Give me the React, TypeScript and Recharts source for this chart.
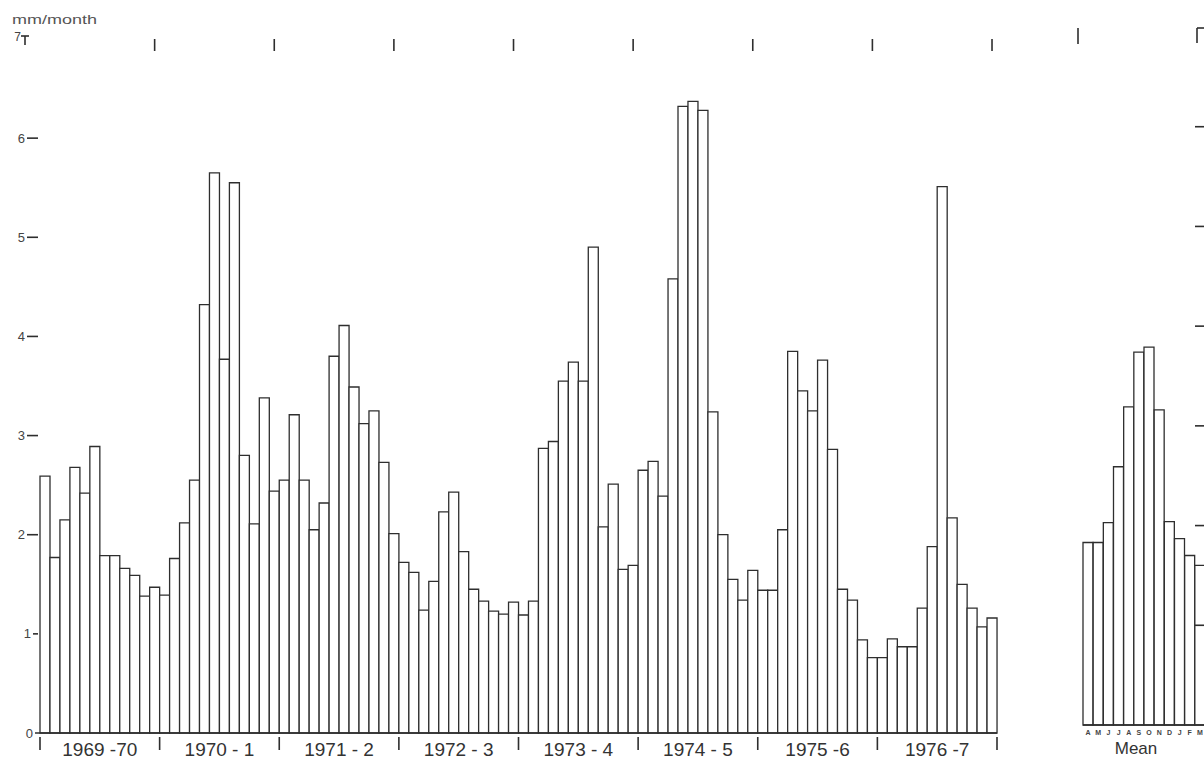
import React from 'react';
import { BarChart, ComposedChart, Bar, Line, XAxis, YAxis, Label } from 'recharts';

// Monthly values (mm/month), water years April -> March
const yearLabels = ['1969 -70', '1970 - 1', '1971 - 2', '1972 - 3', '1973 - 4', '1974 - 5', '1975 -6', '1976 -7'];
const monthLetters = ['A', 'M', 'J', 'J', 'A', 'S', 'O', 'N', 'D', 'J', 'F', 'M'];
const y1969 = [2.59, 1.77, 2.15, 2.68, 2.42, 2.89, 1.79, 1.79, 1.66, 1.59, 1.38, 1.47];
const y1970 = [1.39, 1.76, 2.12, 2.55, 4.32, 5.65, 3.77, 5.55, 2.8, 2.11, 3.38, 2.44];
const y1971 = [2.55, 3.21, 2.55, 2.05, 2.32, 3.8, 4.11, 3.49, 3.12, 3.25, 2.73, 2.01];
const y1972 = [1.72, 1.62, 1.24, 1.53, 2.23, 2.43, 1.83, 1.45, 1.33, 1.23, 1.2, 1.32];
const y1973 = [1.19, 1.33, 2.87, 2.94, 3.55, 3.74, 3.55, 4.9, 2.08, 2.51, 1.65, 1.69];
const y1974 = [2.65, 2.74, 2.39, 4.58, 6.32, 6.37, 6.28, 3.24, 2.0, 1.55, 1.34, 1.64];
const y1975 = [1.44, 1.44, 2.05, 3.85, 3.45, 3.25, 3.76, 2.86, 1.45, 1.34, 0.94, 0.76];
const y1976 = [0.76, 0.95, 0.87, 0.87, 1.26, 1.88, 5.51, 2.17, 1.5, 1.26, 1.07, 1.16];
const meanValues = [1.83, 1.83, 2.03, 2.59, 3.19, 3.74, 3.79, 3.16, 2.04, 1.87, 1.7, 1.6];
const yTicks = [0, 1, 2, 3, 4, 5, 6, 7];

const years = [y1969, y1970, y1971, y1972, y1973, y1974, y1975, y1976];
const data = years.flatMap((vals, yi) =>
  vals.map((v, m) => ({ key: `${yi}-${m}`, idx: yi * 12 + m, value: v }))
);
const meanData = meanValues.map((v, m) => ({ key: `m${m}`, letter: monthLetters[m], value: v }));

const INK = '#2e2e2e';
const FONT = 'Liberation Sans, Arial, Helvetica, sans-serif';

const YearTick = (props: any) => {
  const { x, y, payload, index } = props;
  const i = payload && typeof payload.index === 'number' ? payload.index : index;
  const half = payload && typeof payload.offset === 'number' && payload.offset > 0 ? payload.offset : 4.98;
  const els: any[] = [];
  if (i % 12 === 0) {
    els.push(<line key="b" x1={x - half} x2={x - half} y1={y + 4} y2={y + 17} stroke={INK} strokeWidth={1.6} />);
  }
  if (i === 95) {
    els.push(<line key="e" x1={x + half} x2={x + half} y1={y + 4} y2={y + 17} stroke={INK} strokeWidth={1.6} />);
  }
  if (i % 12 === 6) {
    els.push(
      <text key="t" x={x - half} y={y + 23} textAnchor="middle" fontSize={19} fontFamily={FONT} fill="#333">
        {yearLabels[Math.floor(i / 12)]}
      </text>
    );
  }
  return <g>{els}</g>;
};

const TopTick = (props: any) => {
  const { x, y, payload, index } = props;
  const i = payload && typeof payload.index === 'number' ? payload.index : index;
  if (i % 12 !== 11) return <g />;
  return <line x1={x} x2={x} y1={y} y2={y + 12} stroke={INK} strokeWidth={1.6} />;
};

const YTick = (props: any) => {
  const { x, y, payload } = props;
  const v = payload.value;
  if (v === 7) {
    return (
      <g>
        <text x={x - 19} y={y + 2} textAnchor="end" fontSize={12} fontFamily={FONT} fill="#444">7</text>
        <line x1={x - 19} x2={x - 11} y1={y - 3} y2={y - 3} stroke={INK} strokeWidth={1.6} />
        <line x1={x - 15} x2={x - 15} y1={y - 3} y2={y + 6} stroke={INK} strokeWidth={1.6} />
      </g>
    );
  }
  if (v === 0) {
    return (
      <g>
        <text x={x - 7} y={y} dy="0.35em" textAnchor="end" fontSize={13} fontFamily={FONT} fill="#444">0</text>
        <line x1={x - 5} x2={x} y1={y} y2={y} stroke={INK} strokeWidth={1.5} />
      </g>
    );
  }
  const small = v === 1;
  return (
    <g>
      <text x={small ? x - 9 : x - 15} y={y} dy="0.35em" textAnchor="end" fontSize={13} fontFamily={FONT} fill="#444">{v}</text>
      <line x1={small ? x - 7 : x - 13} x2={x - 2} y1={y} y2={y} stroke={INK} strokeWidth={1.6} />
    </g>
  );
};

const MeanRightTick = (props: any) => {
  const { x, y, payload } = props;
  const v = payload.value;
  if (v === 0) return <g />;
  if (v === 7) {
    return (
      <g>
        <line x1={x - 8} x2={x} y1={y + 1} y2={y + 1} stroke={INK} strokeWidth={1.6} />
        <line x1={x - 8} x2={x - 8} y1={y + 1} y2={y + 16} stroke={INK} strokeWidth={1.6} />
      </g>
    );
  }
  return <line x1={x - 10} x2={x} y1={y} y2={y} stroke={INK} strokeWidth={1.6} />;
};

const MeanLeftTick = (props: any) => {
  const { x, y, payload } = props;
  if (payload.value !== 7) return <g />;
  return <line x1={x - 5} x2={x - 5} y1={y + 1} y2={y + 17} stroke={INK} strokeWidth={1.6} />;
};

const MonthTick = (props: any) => {
  const { x, y, payload } = props;
  return (
    <text x={x} y={y + 10} textAnchor="middle" fontSize={7} fontWeight="bold" fontFamily={FONT} fill="#444">
      {payload.value}
    </text>
  );
};

const MeanLabel = (props: any) => {
  const vb = props.viewBox || { x: 0, y: 0, width: 0, height: 0 };
  return (
    <text x={vb.x + vb.width / 2 - 8} y={vb.y + 29} textAnchor="middle" fontSize={17} fontFamily={FONT} fill="#333">
      Mean
    </text>
  );
};

export default function App() {
  return (
    <div
      style={{
        position: 'absolute',
        left: 0,
        top: 0,
        width: 1204,
        height: 759,
        overflow: 'hidden',
        background: '#fff',
      }}
    >
      <svg width={1204} height={40} style={{ position: 'absolute', left: 0, top: 0 }}>
        <text x={12} y={24} fontSize={13} fontFamily={FONT} fill="#555" textLength={85} lengthAdjust="spacingAndGlyphs">
          mm/month
        </text>
      </svg>
      <div style={{ position: 'absolute', left: 0, top: 0 }}>
        <BarChart
          width={1204}
          height={759}
          data={data}
          margin={{ top: 29, right: 207, bottom: 0, left: 0 }}
          barCategoryGap={0}
          barGap={0}
        >
          <XAxis
            xAxisId="bottom"
            dataKey="key"
            height={26}
            interval={0}
            tickSize={0}
            tickMargin={0}
            tickLine={false}
            axisLine={{ stroke: INK, strokeWidth: 1.6 }}
            tick={<YearTick />}
          />
          <XAxis
            xAxisId="top"
            dataKey="key"
            orientation="top"
            height={10}
            interval={0}
            tickSize={0}
            tickMargin={0}
            tickLine={false}
            axisLine={false}
            tick={<TopTick />}
          />
          <YAxis
            type="number"
            width={40}
            domain={[0, 7]}
            ticks={yTicks}
            interval={0}
            tickSize={0}
            tickMargin={0}
            axisLine={false}
            tickLine={false}
            tick={<YTick />}
          />
          <Bar
            xAxisId="bottom"
            dataKey="value"
            fill="#fff"
            stroke={INK}
            strokeWidth={1.3}
            isAnimationActive={false}
          />
        </BarChart>
      </div>
      <div style={{ position: 'absolute', left: 1073, top: 0 }}>
        <ComposedChart
          width={152}
          height={759}
          data={meanData}
          margin={{ top: 27, right: 0, bottom: 0, left: 0 }}
          barCategoryGap={0}
          barGap={0}
        >
          <XAxis
            dataKey="letter"
            height={34}
            interval={0}
            tickSize={0}
            tickMargin={0}
            tickLine={false}
            axisLine={{ stroke: INK, strokeWidth: 1.6 }}
            tick={<MonthTick />}
          >
            <Label content={<MeanLabel />} />
          </XAxis>
          <YAxis
            yAxisId="left"
            type="number"
            width={10}
            domain={[0, 7]}
            ticks={yTicks}
            interval={0}
            tickSize={0}
            tickMargin={0}
            axisLine={false}
            tickLine={false}
            tick={<MeanLeftTick />}
          />
          <YAxis
            yAxisId="right"
            orientation="right"
            type="number"
            width={20}
            domain={[0, 7]}
            ticks={yTicks}
            interval={0}
            tickSize={0}
            tickMargin={0}
            axisLine={false}
            tickLine={false}
            tick={<MeanRightTick />}
          />
          <Bar
            yAxisId="left"
            dataKey="value"
            fill="#fff"
            stroke={INK}
            strokeWidth={1.3}
            isAnimationActive={false}
          />
          <Line
            yAxisId="right"
            dataKey="value"
            stroke="none"
            strokeOpacity={0}
            dot={false}
            activeDot={false}
            isAnimationActive={false}
          />
        </ComposedChart>
      </div>
    </div>
  );
}
